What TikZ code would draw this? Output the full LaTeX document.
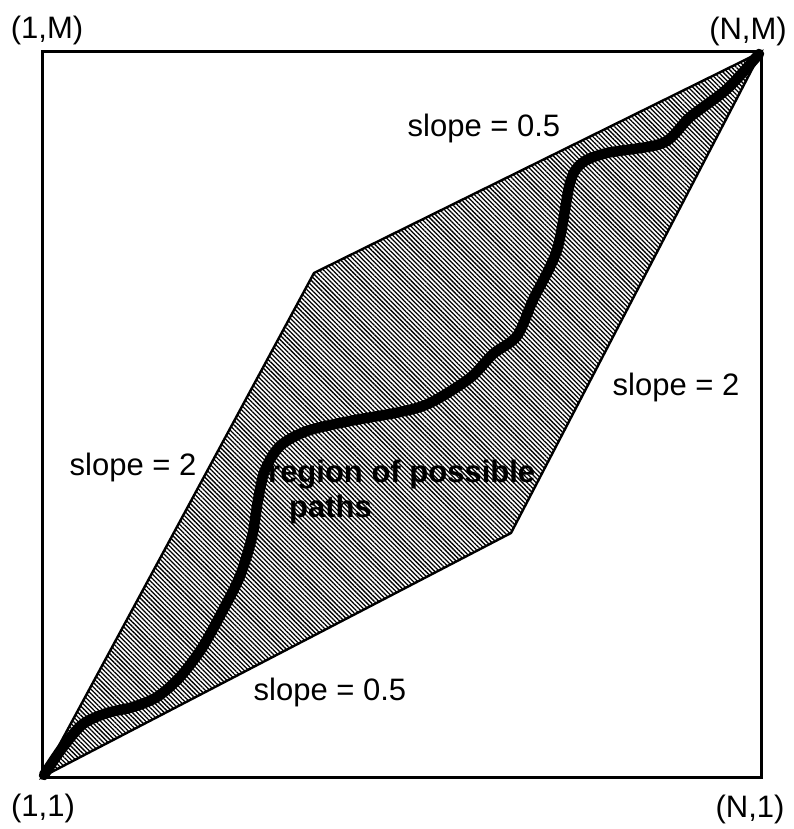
\documentclass[tikz,border=0pt]{standalone}
\usepackage{fontspec}
\setmainfont{Liberation Sans}
\usetikzlibrary{patterns.meta}
\begin{document}
\begin{tikzpicture}[x=1pt,y=-1pt,
  lbl/.style={font=\fontsize{31}{37}\selectfont, inner sep=0pt},
  blbl/.style={font=\fontsize{31}{37}\selectfont\bfseries, inner sep=0pt},
  region/.style={draw=black, line width=2.4pt, line join=miter,
    pattern={Lines[angle=-45, distance=3.2pt, line width=1.3pt]}},
  frame/.style={draw=black, line width=3pt},
  warp/.style={draw=black, line width=10.5pt, line cap=round, line join=round}]
\useasboundingbox (0,0) rectangle (793,829);
\coordinate (BL) at (42,777);
\coordinate (BR) at (761,777);
\coordinate (TR) at (761,52);
\coordinate (TL) at (42,52);
\coordinate (P1) at (314,273);
\coordinate (P2) at (511,533);
\draw[frame] (BL) -- (BR) -- (TR) -- (TL) -- cycle;
\draw[region] (BL) -- (P1) -- (TR) -- (P2) -- cycle;
\node[blbl, anchor=base west] (reg) at (268,482) {region of possible};
\node[blbl, anchor=base west] (pth) at (289,517) {paths};
\draw[warp] plot[smooth, tension=0.5] coordinates {
  (44,775) (63,747) (83,724) (107,713) (133,707) (157,697) (180,677) (202,648)
  (222,612) (240,576) (252,537) (258,500) (265,470) (280,446) (307,431)
  (350,421) (400,412) (430,403) (470,378) (493,354) (517,336) (533,300)
  (557,250) (570,183) (582,163) (607,153) (663,143) (690,117) (727,89) (759,54)};
\node[lbl] (lTL) at (47,30) {(1,M)};
\node[lbl] (lTR) at (748,31) {(N,M)};
\node[lbl] (lBL) at (43,808) {(1,1)};
\node[lbl] (lBR) at (750,809) {(N,1)};
\node[lbl, anchor=base] (s1) at (484,137) {slope = 0.5};
\node[lbl, anchor=base] (s2) at (676,395) {slope = 2};
\node[lbl, anchor=base] (s3) at (133,475) {slope = 2};
\node[lbl, anchor=base] (s4) at (330,700) {slope = 0.5};
\end{tikzpicture}
\end{document}
